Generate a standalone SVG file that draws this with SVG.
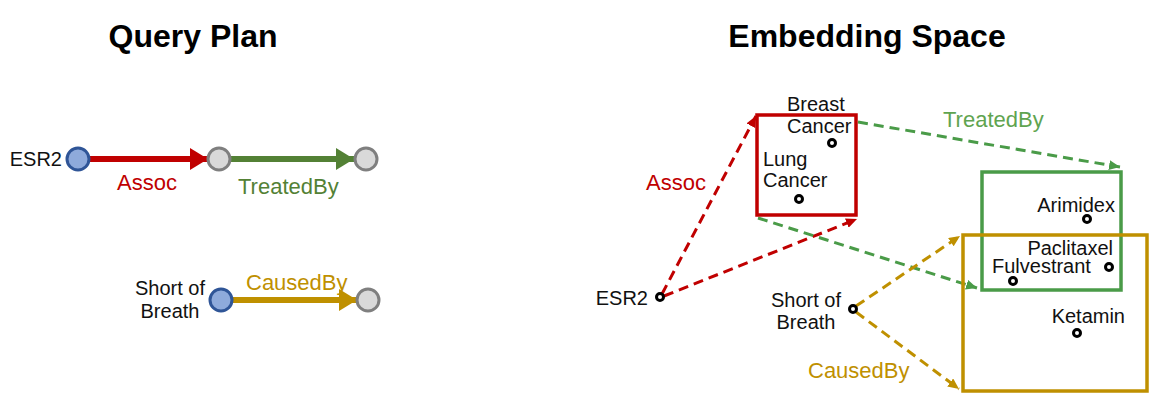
<svg xmlns="http://www.w3.org/2000/svg" width="1160" height="414" viewBox="0 0 1160 414">
<defs>
<style>
text{font-family:"Liberation Sans",Arial,sans-serif;}
.title{font-size:32px;font-weight:bold;fill:#000;text-anchor:middle;}
.lbl{font-size:20px;fill:#111;}
.edge{font-size:22px;}
.qn{stroke-width:3;}
.blue{fill:#8eaadb;stroke:#2f5597;}
.grey{fill:#d9d9d9;stroke:#7f7f7f;}
.dot{fill:#fff;stroke:#000;stroke-width:3;}
.dash{fill:none;stroke-width:3;stroke-dasharray:10 6;}
.box{fill:none;stroke-width:3.5;}
</style>
<marker id="ahR" markerUnits="userSpaceOnUse" markerWidth="20" markerHeight="22" refX="18" refY="11" orient="auto"><path d="M0,0 L18,11 L0,22 Z" fill="#c00000"/></marker>
<marker id="ahG" markerUnits="userSpaceOnUse" markerWidth="20" markerHeight="22" refX="18" refY="11" orient="auto"><path d="M0,0 L18,11 L0,22 Z" fill="#538135"/></marker>
<marker id="ahY" markerUnits="userSpaceOnUse" markerWidth="20" markerHeight="22" refX="18" refY="11" orient="auto"><path d="M0,0 L18,11 L0,22 Z" fill="#bf9000"/></marker>
<marker id="dR" markerUnits="userSpaceOnUse" markerWidth="12" markerHeight="10" refX="11" refY="5" orient="auto"><path d="M0,0 L11,5 L0,10 Z" fill="#c00000"/></marker>
<marker id="dG" markerUnits="userSpaceOnUse" markerWidth="12" markerHeight="10" refX="11" refY="5" orient="auto"><path d="M0,0 L11,5 L0,10 Z" fill="#4a9b48"/></marker>
<marker id="dY" markerUnits="userSpaceOnUse" markerWidth="12" markerHeight="10" refX="11" refY="5" orient="auto"><path d="M0,0 L11,5 L0,10 Z" fill="#bf9000"/></marker>
</defs>
<rect width="1160" height="414" fill="#fff"/>
<text class="title" x="193" y="47">Query Plan</text>
<text class="title" x="867" y="47">Embedding Space</text>

<g id="connectors">
<line x1="89" y1="159" x2="208" y2="159" stroke="#c00000" stroke-width="6" marker-end="url(#ahR)"/>
<line x1="230" y1="159" x2="354" y2="159" stroke="#538135" stroke-width="6" marker-end="url(#ahG)"/>
<line x1="232" y1="300" x2="357" y2="300" stroke="#bf9000" stroke-width="6" marker-end="url(#ahY)"/>
<line class="dash" x1="662" y1="294" x2="756" y2="116" stroke="#c00000" marker-end="url(#dR)"/>
<line class="dash" x1="664" y1="296" x2="857" y2="219" stroke="#c00000" marker-end="url(#dR)"/>
<line class="dash" x1="858" y1="122" x2="1120" y2="167" stroke="#4a9b48" marker-end="url(#dG)"/>
<line class="dash" x1="758" y1="218" x2="977" y2="288" stroke="#4a9b48" marker-end="url(#dG)"/>
<line class="dash" x1="856" y1="306" x2="960" y2="236" stroke="#bf9000" marker-end="url(#dY)"/>
<line class="dash" x1="856" y1="312" x2="959" y2="389" stroke="#bf9000" marker-end="url(#dY)"/>
<text class="edge" x="117" y="190" fill="#c00000">Assoc</text>
<text class="edge" x="238" y="194" fill="#538135">TreatedBy</text>
<text class="edge" x="246" y="290" fill="#bf9000">CausedBy</text>
<text class="edge" x="646" y="190" fill="#c00000">Assoc</text>
<text class="edge" x="943" y="127" fill="#5fa450">TreatedBy</text>
<text class="edge" x="808" y="378" fill="#bf9000">CausedBy</text>
</g>

<g id="q-esr2"><circle class="qn blue" cx="78" cy="159" r="11"/><text class="lbl" x="62" y="166" text-anchor="end">ESR2</text></g>
<g id="q-mid"><circle class="qn grey" cx="219" cy="159" r="11"/></g>
<g id="q-end1"><circle class="qn grey" cx="366" cy="159" r="11"/></g>
<g id="q-sob"><circle class="qn blue" cx="221" cy="300" r="11"/><text class="lbl" x="170" y="295" text-anchor="middle">Short of</text><text class="lbl" x="170" y="318" text-anchor="middle">Breath</text></g>
<g id="q-end2"><circle class="qn grey" cx="368" cy="300" r="11"/></g>

<g id="box-red"><rect class="box" x="757" y="115" width="99" height="100" stroke="#c00000"/></g>
<g id="box-green"><rect class="box" x="982" y="172" width="139" height="118" stroke="#4a9b48"/></g>
<g id="box-gold"><rect class="box" x="963" y="235" width="184" height="156" stroke="#bf9000"/></g>

<g id="e-esr2"><circle class="dot" cx="660" cy="297" r="3.5"/><text class="lbl" x="648" y="305" text-anchor="end">ESR2</text></g>
<g id="e-breast"><circle class="dot" cx="832" cy="143" r="3.5"/><text class="lbl" x="787" y="111">Breast</text><text class="lbl" x="787" y="133">Cancer</text></g>
<g id="e-lung"><circle class="dot" cx="799" cy="199" r="3.5"/><text class="lbl" x="763" y="166">Lung</text><text class="lbl" x="763" y="187">Cancer</text></g>
<g id="e-sob"><circle class="dot" cx="853" cy="309" r="3.5"/><text class="lbl" x="806" y="307" text-anchor="middle">Short of</text><text class="lbl" x="806" y="329" text-anchor="middle">Breath</text></g>
<g id="e-arimidex"><circle class="dot" cx="1087" cy="219" r="3.5"/><text class="lbl" x="1115" y="212" text-anchor="end">Arimidex</text></g>
<g id="e-paclitaxel"><circle class="dot" cx="1109" cy="267" r="3.5"/><text class="lbl" x="1113" y="255" text-anchor="end">Paclitaxel</text></g>
<g id="e-fulvestrant"><circle class="dot" cx="1013" cy="281" r="3.5"/><text class="lbl" x="992" y="273">Fulvestrant</text></g>
<g id="e-ketamin"><circle class="dot" cx="1077" cy="333" r="3.5"/><text class="lbl" x="1125" y="323" text-anchor="end">Ketamin</text></g>
</svg>
